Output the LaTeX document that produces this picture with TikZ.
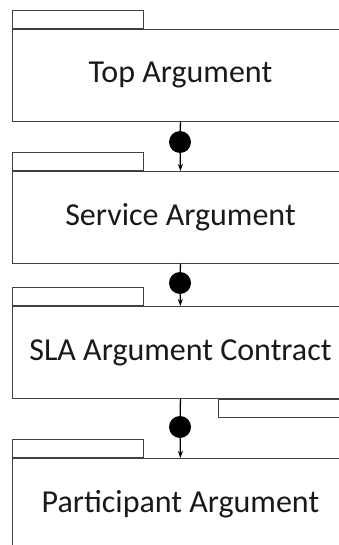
\documentclass[tikz,border=0pt]{standalone}
\usepackage{fontspec}
\setmainfont{Carlito}
\usetikzlibrary{arrows.meta,positioning}

\begin{document}
\begin{tikzpicture}[x=1pt,y=-1pt,
  argbox/.style={draw=black!75,line width=0.9pt,minimum width=336pt,
    minimum height=92pt,inner sep=0pt,anchor=north west,text=black!90,
    font=\fontsize{32}{38}\selectfont},
  argtab/.style={draw=black!75,line width=0.9pt,minimum width=131pt,
    minimum height=18pt,inner sep=0pt,anchor=south west},
  argdot/.style={circle,fill=black,minimum size=22pt,inner sep=0pt},
  link/.style={line width=1.3pt,black}]
  \useasboundingbox (0,0) rectangle (339,545);
  \clip (0,0) rectangle (339,545);

  % argument modules (cut off at the right)
  \node[argbox] (top) at (12,29) {Top Argument};
  \node[argtab] (toptab) at (top.north west) {};
  \node[argbox] (service) at (12,171) {Service Argument};
  \node[argtab] (servicetab) at (service.north west) {};
  \node[argbox] (sla) at (12,306) {SLA Argument Contract};
  \node[argtab] (slatab) at (sla.north west) {};
  \node[argtab,anchor=north west,minimum width=140pt] (slafoot)
    at ([xshift=206pt]sla.south west) {};
  \node[argbox] (part) at (12,458) {Participant Argument};
  \node[argtab] (parttab) at (part.north west) {};

  % connectors with dot
  \node[argdot] (d1) at (180,142) {};
  \node[argdot] (d2) at (180,283) {};
  \node[argdot] (d3) at (180,427) {};
  \draw[link] (top.south) -- (d1);
  \draw[link,-{Stealth[length=7pt,width=5pt]}] (d1) -- (service.north);
  \draw[link] (service.south) -- (d2);
  \draw[link,-{Stealth[length=7pt,width=5pt]}] (d2) -- (sla.north);
  \draw[link] (sla.south) -- (d3);
  \draw[link,-{Stealth[length=7pt,width=5pt]}] (d3) -- (part.north);
\end{tikzpicture}
\end{document}
